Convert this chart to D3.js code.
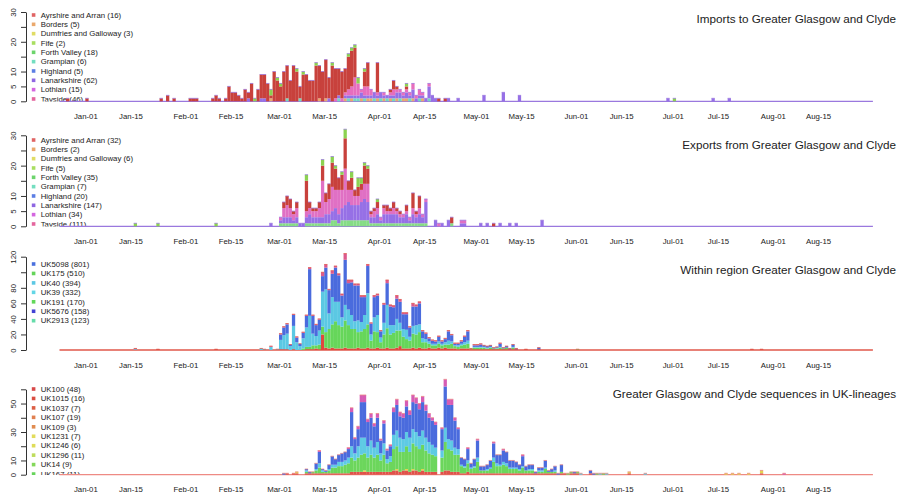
<!DOCTYPE html>
<html>
<head>
<meta charset="utf-8">
<script src="https://cdn.jsdelivr.net/npm/d3@7"></script>
<style>
  body { margin: 0; background: #fff; }
  text { font-family: "Liberation Sans", Arial, Helvetica, sans-serif; fill: #222; }
</style>
</head>
<body>
<svg id="chart" width="897" height="499"></svg>
<script>
// ---- x axis tick labels (2020) ----
var xTickLabels = ["Jan-01","Jan-15","Feb-01","Feb-15","Mar-01","Mar-15","Apr-01","Apr-15",
                   "May-01","May-15","Jun-01","Jun-15","Jul-01","Jul-15","Aug-01","Aug-15"];

// ---- panel 1: imports (days = offset from Jan-01) ----
var impNames = ["Ayrshire and Arran (16)","Borders (5)","Dumfries and Galloway (3)","Fife (2)","Forth Valley (18)",
                "Grampian (6)","Highland (5)","Lanarkshire (62)","Lothian (15)","Tayside (46)"];
var impTicks = [0,5,10,15,20,25,30];
var impTickLabels = [0,5,10,20,30];
var impDays = [-6,0,23,25,27,32,33,34,39,40,41,43].concat(d3.range(44,110)).concat([111,112,115,123,129,134,180,182,194,199]);
var impOrange = [0,0,0,0,0,0,0,0,0,0,0,0,
  0,0,0,0,0,0,0,0,0,0,
  0,0,0,1,0,0,0,0,0,0,
  0,0,0,0,0,0,0,0,1,0,
  1,0,0,0,0,0,1,0,1,0,
  0,1,0,1,1,0,1,0,1,0,
  1,0,1,0,1,1,0,1,0,0,
  1,0,0,0,0,0,
  0,0,0,0,0,0,0,0,0,0];
var impTeal = [0,0,0,0,0,0,0,0,0,0,0,0,
  0,0,0,0,0,0,0,0,0,0,
  0,0,0,0,0,0,0,0,1,0,
  0,0,1,0,0,0,0,0,0,0,
  0,0,0,0,1,0,0,1,0,1,
  1,0,1,0,0,1,0,1,0,1,
  0,1,0,1,0,0,1,0,0,1,
  0,0,1,0,0,0,
  0,0,0,0,0,0,0,0,0,0];
var impPurple = [0,0,0,0,0,0,0,0,0,0,0,0,
  0,0,0,0,0,0,1,0,0,0,
  1,1,0,0,0,0,0,0,0,0,
  0,0,0,0,0,0,0,0,0,0,
  0,1,0,0,1,0,1,1,1,1,
  1,2,1,1,1,2,1,2,1,1,
  1,1,2,2,1,2,1,3,1,1,
  1,1,4,2,1,0,
  0,1,1,2,3,2,1,0,1,1];
var impPink = [0,0,0,0,0,0,0,0,0,0,0,0,
  0,0,0,0,0,0,0,0,0,0,
  0,0,0,0,0,0,0,0,0,0,
  0,0,0,0,0,0,0,0,0,0,
  0,0,0,1,0,1,1,2,3,6,
  4,1,3,3,2,0,1,0,1,0,
  1,2,1,1,1,1,1,2,1,2,
  1,0,1,0,0,0,
  0,0,0,0,0,0,0,0,0,0];
var impRed = [1,1,1,2,1,1,1,1,1,2,1,1,
  5,3,3,2,1,4,2,6,0,4,
  8,8,6,1,10,7,5,10,11,7,
  12,10,4,9,9,7,7,12,11,10,
  13,7,12,10,9,9,8,11,12,10,
  0,0,5,8,0,0,10,0,0,0,
  1,3,1,0,0,1,0,0,0,0,
  0,0,0,0,0,1,
  1,0,0,0,0,0,0,0,0,0];
var impGreen = [0,0,0,0,0,0,0,0,0,0,0,0,
  0,0,0,0,0,0,0,0,1,0,
  0,0,0,2,0,1,1,0,0,0,
  0,1,0,1,0,0,0,1,0,0,
  0,0,1,0,0,0,0,1,1,1,
  2,0,1,0,0,0,0,0,0,0,
  0,0,0,0,0,1,0,0,0,0,
  0,0,0,0,0,0,
  0,0,0,0,0,0,0,1,0,0];

// ---- panel 2: exports ----
var expNames = ["Ayrshire and Arran (32)","Borders (2)","Dumfries and Galloway (6)","Fife (5)","Forth Valley (35)",
                "Grampian (7)","Highland (20)","Lanarkshire (147)","Lothian (34)","Tayside (111)"];
var expTicks = [0,5,10,15,20,25,30];
var expTickLabels = [0,5,10,20,30];
var expDays = [15,22,40,57].concat(d3.range(60,106)).concat([108,109,110,112,113,116,117,122,124,126,128,131,133,141]);
var expMix = [0,0,0,0,
  1,1,1,1,1,1,0,0,1,1,
  1,1,1,1,1,1,2,2,1,2,
  2,2,2,2,2,2,2,2,1,1,
  1,1,1,1,1,1,1,1,1,1,
  1,1,1,1,1,1,
  0,0,0,0,1,0,0,0,0,0,0,0,0,0];
var expPurple = [0,0,0,1,
  1,2,2,2,1,2,1,1,2,3,
  2,2,2,2,3,3,3,4,3,4,
  5,6,5,5,5,6,7,6,2,2,
  3,1,3,3,3,3,3,2,2,3,
  1,3,2,3,2,7,
  2,0,1,2,0,1,1,1,1,0,1,1,1,2];
var expPink = [0,0,0,0,
  1,3,4,3,2,3,0,0,2,2,
  2,2,3,12,4,5,8,6,8,6,
  12,4,5,3,3,4,5,6,1,2,
  2,1,2,1,1,2,1,1,1,1,
  1,2,1,2,1,1,
  0,1,0,0,0,1,1,0,0,0,0,0,0,0];
var expRed = [0,0,0,0,
  0,2,3,3,1,2,0,0,10,2,
  1,1,2,5,3,5,8,7,4,5,
  10,3,4,2,3,2,6,5,1,1,
  2,0,1,2,1,2,1,1,0,2,
  0,5,1,4,0,0,
  0,0,0,0,2,0,0,0,0,1,0,0,0,0];
var expGreen = [1,1,1,0,
  0,0,0,0,0,0,0,0,2,0,
  0,0,0,2,0,0,2,1,0,1,
  3,0,2,0,3,2,1,1,0,0,
  1,0,0,0,0,0,0,0,0,0,
  0,0,0,0,0,0,
  0,0,0,0,0,0,0,0,0,0,0,0,0,0];

// ---- panel 3: within region ----
var winNames = ["UK5098 (801)","UK175 (510)","UK40 (394)","UK39 (332)","UK191 (170)","UK5676 (158)","UK2913 (123)"];
var winTicks = [0,20,40,60,80,100,120];
var winTickLabels = [0,20,40,60,80,120];
var winDays = [15,22,40,54,55,57,59].concat(d3.range(60,134)).concat([136,140,152,206,209]);
var winRed = [0,1,1,0,0,0,0,
  1,1,1,0,1,0,0,0,1,1,
  1,2,1,20,3,2,3,2,2,2,
  3,2,2,2,3,2,2,3,2,2,
  3,2,2,3,2,2,3,5,2,2,
  2,3,2,3,2,2,3,2,2,3,
  2,3,2,2,2,1,2,2,2,1,
  1,1,1,1,1,1,1,1,1,1,
  1,1,1,1,
  1,1,0,1,1];
var winGreen = [0,0,0,0,0,0,0,
  0,0,0,0,0,0,0,2,3,3,
  5,4,6,10,20,25,30,35,30,28,
  35,30,25,25,20,22,25,30,10,22,
  20,8,18,25,18,20,22,20,15,12,
  10,18,18,20,8,8,5,4,4,5,
  4,4,5,6,3,3,4,5,6,1,
  2,2,2,2,1,2,1,1,2,1,
  2,0,2,0,
  0,0,1,0,0];
var winCyan = [1,0,0,2,1,4,1,
  12,18,20,5,30,10,5,13,25,40,
  15,12,18,45,55,20,35,25,30,12,
  20,20,18,10,15,12,18,40,8,18,
  22,6,15,30,12,10,15,10,10,12,
  5,10,12,10,5,4,3,2,2,3,
  2,3,5,3,1,2,2,3,4,0,
  1,1,1,1,1,1,0,1,1,0,
  0,0,1,0,
  0,0,0,0,0];
var winBlue = [0,0,0,0,0,0,0,
  7,10,12,2,14,6,3,7,15,60,
  23,14,14,20,28,30,30,44,34,28,
  58,34,42,46,45,32,23,35,14,26,
  25,8,23,28,24,23,26,27,19,20,
  12,25,24,27,9,7,4,4,3,6,
  3,4,12,8,2,2,3,7,12,0,
  2,2,3,2,2,2,1,1,4,1,
  2,1,3,1,
  0,2,0,0,0];
var winPink = [1,0,0,0,0,1,0,
  1,1,1,0,1,1,0,1,1,2,
  1,1,1,5,4,1,4,2,2,2,
  8,4,3,2,2,2,2,2,1,2,
  2,1,2,4,2,2,4,3,2,2,
  1,4,2,2,1,1,1,1,1,1,
  1,1,1,1,1,1,1,1,1,0,
  1,1,1,0,0,0,0,0,1,0,
  0,0,0,0,
  0,0,0,0,0];

// ---- panel 4: UK-lineages ----
var linNames = ["UK100 (48)","UK1015 (16)","UK1037 (7)","UK107 (19)","UK109 (3)",
                "UK1231 (7)","UK1246 (6)","UK1296 (11)","UK14 (9)","UK167 (11)"];
var linTicks = [0,10,20,30,40,50,60];
var linTickLabels = [0,10,30,50];
var linDays = d3.range(61,162).concat([168,173,198,200,202,205,209,216]);
var linRed = [
  0,1,0,1,1,0,0,1,1,1,
  1,1,1,1,1,1,1,1,1,1,
  1,2,2,2,2,2,2,2,2,2,
  2,2,2,2,3,3,2,3,3,2,
  3,3,2,3,2,2,2,2,0,2,
  3,3,2,2,2,1,1,2,1,1,
  1,1,1,1,1,1,1,1,1,1,
  1,1,1,1,1,1,1,1,1,1,
  1,1,1,1,1,0,1,1,0,1,
  1,1,0,0,0,1,0,0,0,0,0,
  1,0,0,0,0,0,1,0];
var linYellow = [
  0,0,0,0,1,0,0,0,0,0,
  0,0,0,0,0,0,0,0,0,0,
  0,0,0,0,0,1,0,0,0,0,
  0,0,0,0,0,1,0,0,1,0,
  1,0,0,1,0,0,0,0,0,0,
  0,0,0,0,0,0,0,0,0,0,
  0,0,0,0,0,0,0,0,0,0,
  0,0,0,0,0,0,0,0,0,0,
  0,0,0,0,0,0,0,0,0,0,
  0,0,0,0,0,0,0,0,0,0,0,
  1,0,1,1,1,1,2,0];
var linGreen = [
  0,0,0,0,0,0,0,1,0,1,
  2,4,1,1,2,4,4,5,5,6,
  7,10,8,10,12,12,10,12,10,12,
  8,12,6,7,15,16,14,13,16,14,
  18,17,16,17,15,13,12,11,0,10,
  20,15,15,12,12,5,4,6,3,4,
  8,2,2,2,3,8,5,5,6,5,
  3,3,3,2,4,2,2,2,0,1,
  1,3,1,1,1,0,1,0,1,1,
  0,1,0,0,0,0,0,1,0,1,0,
  0,0,0,0,0,0,0,0];
var linCyan = [
  0,0,0,0,0,0,0,1,0,0,
  1,3,1,0,1,2,2,3,3,3,
  4,8,5,8,12,11,8,10,7,9,
  5,8,3,4,10,11,10,9,10,10,
  10,10,9,10,9,8,7,6,0,5,
  10,7,7,5,4,1,1,2,1,1,
  3,0,0,1,1,3,2,1,2,2,
  1,1,1,1,1,0,1,1,0,1,
  1,1,0,0,1,0,0,0,0,0,
  0,0,1,0,0,0,0,0,1,0,1,
  0,1,0,0,0,0,0,0];
var linBlue = [
  1,0,0,0,0,0,0,1,1,0,
  4,8,1,1,3,6,4,5,6,6,
  6,24,10,12,25,25,17,16,15,17,
  9,14,6,7,16,18,15,15,18,16,
  19,20,19,20,19,17,17,16,0,15,
  29,24,25,19,14,5,5,8,3,5,
  12,3,3,3,5,10,6,7,8,8,
  5,5,4,3,7,3,3,3,1,2,
  2,5,1,2,3,1,5,0,0,0,
  1,0,0,0,0,2,1,0,0,0,0,
  0,0,0,0,0,0,0,0];
var linPink = [
  0,0,0,0,0,0,0,0,0,0,
  0,1,0,0,0,0,0,0,0,0,
  1,3,1,2,5,5,2,3,2,3,
  1,2,1,1,3,4,3,3,4,3,
  5,4,4,4,4,3,2,2,0,1,
  5,4,4,2,1,0,0,1,0,0,
  1,0,0,0,0,1,0,0,1,0,
  0,0,0,0,1,0,0,0,0,0,
  0,0,0,0,0,0,0,0,0,0,
  0,0,0,0,0,0,0,0,0,0,0,
  0,0,0,0,0,0,0,1];

// ---- colours ----
var hbColors = ["#E06464","#EAA86C","#E0DC64","#A8DE60","#6CD46C","#74DEC0","#5C7EE4","#8E66E2","#D466E0","#E4669E"];
var winColors = ["#4A70DE","#64D45A","#5CC8E4","#62D6E6","#62D85A","#4242D4","#66DCAA"];
var linColors = ["#D84848","#DA4C40","#DC5E44","#E08050","#E08C50","#E2DC5C","#DEDC58","#BEDC5C","#84D85A","#66D45A"];

//Create SVG element
var svg = d3.select("#chart");
var W = 897;

// shared time scale (bars span one day each)
var x = d3.scaleUtc()
    .domain([Date.UTC(2019, 11, 24), Date.UTC(2020, 8, 1)])
    .range([59.5, 872.9]);
var jan1 = new Date(Date.UTC(2020, 0, 1));
function dayToDate(d) { return d3.utcDay.offset(jan1, d); }
var parseTick = d3.utcParse("%Y-%b-%d");
var xTickDates = xTickLabels.map(function (l) { return parseTick("2020-" + l); });

var panels = [
  { title: "Imports to Greater Glasgow and Clyde", top: 12, base: 101.3, yMax: 30, titleY: 22.5,
    ticks: impTicks, tickLabels: impTickLabels, names: impNames, legendColors: hbColors,
    legendY: 15, legendStep: 9.33, days: impDays, line: "#9A78DE",
    series: [{v: impOrange, c: "#E8A870"}, {v: impTeal, c: "#74D8C0"}, {v: impPurple, c: "#9670E6"},
             {v: impPink, c: "#E66EBE"}, {v: impRed, c: "#C8413C"}, {v: impGreen, c: "#8CD250"}] },
  { title: "Exports from Greater Glasgow and Clyde", top: 135.3, base: 226.3, yMax: 30, titleY: 148.5,
    ticks: expTicks, tickLabels: expTickLabels, names: expNames, legendColors: hbColors,
    legendY: 140, legendStep: 9.33, days: expDays, line: "#9A78DE",
    series: [{v: expMix, c: "#86DC86"}, {v: expPurple, c: "#9670E6"}, {v: expPink, c: "#E070C4"},
             {v: expRed, c: "#C8413C"}, {v: expGreen, c: "#8CD250"}] },
  { title: "Within region Greater Glasgow and Clyde", top: 256.7, base: 350, yMax: 120, titleY: 273.5,
    ticks: winTicks, tickLabels: winTickLabels, names: winNames, legendColors: winColors,
    legendY: 264, legendStep: 9.45, days: winDays, line: "#E0574A",
    series: [{v: winRed, c: "#E0473E"}, {v: winGreen, c: "#66D65A"}, {v: winCyan, c: "#5BC8E3"},
             {v: winBlue, c: "#4A6BDD"}, {v: winPink, c: "#DC5A8C"}] },
  { title: "Greater Glasgow and Clyde sequences in UK-lineages", top: 389.3, base: 474.7, yMax: 60, titleY: 397.5,
    ticks: linTicks, tickLabels: linTickLabels, names: linNames, legendColors: linColors,
    legendY: 389, legendStep: 9.45, days: linDays, line: "#EE8A84",
    series: [{v: linRed, c: "#E0524A"}, {v: linYellow, c: "#E2D352"}, {v: linGreen, c: "#6CD65C"},
             {v: linCyan, c: "#5ECAE4"}, {v: linBlue, c: "#4A6BDD"}, {v: linPink, c: "#D65CB4"}] }
];

panels.forEach(drawPanel);

function drawPanel(p, idx) {
    var y = d3.scaleLinear().domain([0, p.yMax]).range([p.base, p.top]);
    var g = svg.append("g");

    // legend is clipped to the plot region, like in the original
    var clipId = "clip" + idx;
    svg.append("clipPath").attr("id", clipId)
        .append("rect")
        .attr("x", 0).attr("y", p.top - 20)
        .attr("width", W).attr("height", p.base + 0.3 - (p.top - 20));

    var leg = g.append("g").attr("clip-path", "url(#" + clipId + ")");
    leg.selectAll("rect")
        .data(p.names)
        .enter().append("rect")
        .attr("x", 31.8)
        .attr("y", function (d, i) { return p.legendY + i * p.legendStep - 1.8; })
        .attr("width", 3.6).attr("height", 3.6)
        .attr("fill", function (d, i) { return p.legendColors[i]; });
    leg.selectAll("text")
        .data(p.names)
        .enter().append("text")
        .attr("x", 40.7)
        .attr("y", function (d, i) { return p.legendY + i * p.legendStep; })
        .attr("dy", "0.35em")
        .style("font-size", "7.8px")
        .text(function (d) { return d; });

    // baseline (zero-height bar borders)
    g.append("line")
        .attr("x1", x.range()[0]).attr("x2", x.range()[1])
        .attr("y1", p.base).attr("y2", p.base)
        .attr("stroke", p.line).attr("stroke-width", 1.3);

    // stacked bars
    var keys = p.series.map(function (s, k) { return "s" + k; });
    var rows = p.days.map(function (d, i) {
        var r = {day: d};
        p.series.forEach(function (s, k) { r["s" + k] = s.v[i] || 0; });
        return r;
    });
    var layers = d3.stack().keys(keys)(rows);
    function bx(d) { return x(dayToDate(d)); }
    function bw(d) { return x(dayToDate(d + 1)) - x(dayToDate(d)); }

    layers.forEach(function (layer, k) {
        g.append("g")
            .attr("fill", p.series[k].c)
            .selectAll("rect")
            .data(layer.filter(function (v) { return v[1] > v[0]; }))
            .enter().append("rect")
            .attr("x", function (v) { return bx(v.data.day); })
            .attr("width", function (v) { return bw(v.data.day) + 0.05; })
            .attr("y", function (v) { return y(v[1]); })
            .attr("height", function (v) { return y(v[0]) - y(v[1]); });
    });

    // thin border on top of each bar
    var top = layers[layers.length - 1].filter(function (v) { return v[1] > 0; });
    g.append("g")
        .attr("stroke", p.line).attr("stroke-width", 0.8)
        .selectAll("line")
        .data(top)
        .enter().append("line")
        .attr("x1", function (v) { return bx(v.data.day); })
        .attr("x2", function (v) { return bx(v.data.day) + bw(v.data.day); })
        .attr("y1", function (v) { return y(v[1]); })
        .attr("y2", function (v) { return y(v[1]); });

    // y axis
    var yAxis = g.append("g")
        .attr("transform", "translate(26,0)")
        .call(d3.axisLeft(y)
            .tickValues(p.ticks)
            .tickSize(5)
            .tickSizeOuter(0)
            .tickFormat(function (d) { return p.tickLabels.indexOf(d) >= 0 ? d : ""; }));
    yAxis.select(".domain").attr("stroke", "#333");
    yAxis.selectAll(".tick line").attr("stroke", "#333");
    yAxis.selectAll(".tick text")
        .attr("transform", "rotate(-90)")
        .attr("x", 0).attr("y", -10).attr("dy", 0)
        .attr("text-anchor", "middle")
        .style("font-family", "Liberation Sans, Arial, sans-serif")
        .style("font-size", "7.8px")
        .attr("fill", "#222");

    // x labels (no tick marks)
    var xAxis = g.append("g")
        .attr("transform", "translate(0," + p.base + ")")
        .call(d3.axisBottom(x)
            .tickValues(xTickDates)
            .tickSize(0)
            .tickFormat(function (d, i) { return xTickLabels[i]; }));
    xAxis.select(".domain").remove();
    xAxis.selectAll(".tick text")
        .attr("y", 17.5).attr("dy", 0)
        .style("font-family", "Liberation Sans, Arial, sans-serif")
        .style("font-size", "7.8px")
        .attr("fill", "#222");

    // title
    g.append("text")
        .attr("x", W - 1)
        .attr("y", p.titleY)
        .attr("text-anchor", "end")
        .style("font-size", "11.7px")
        .text(p.title);
}
</script>
</body>
</html>
